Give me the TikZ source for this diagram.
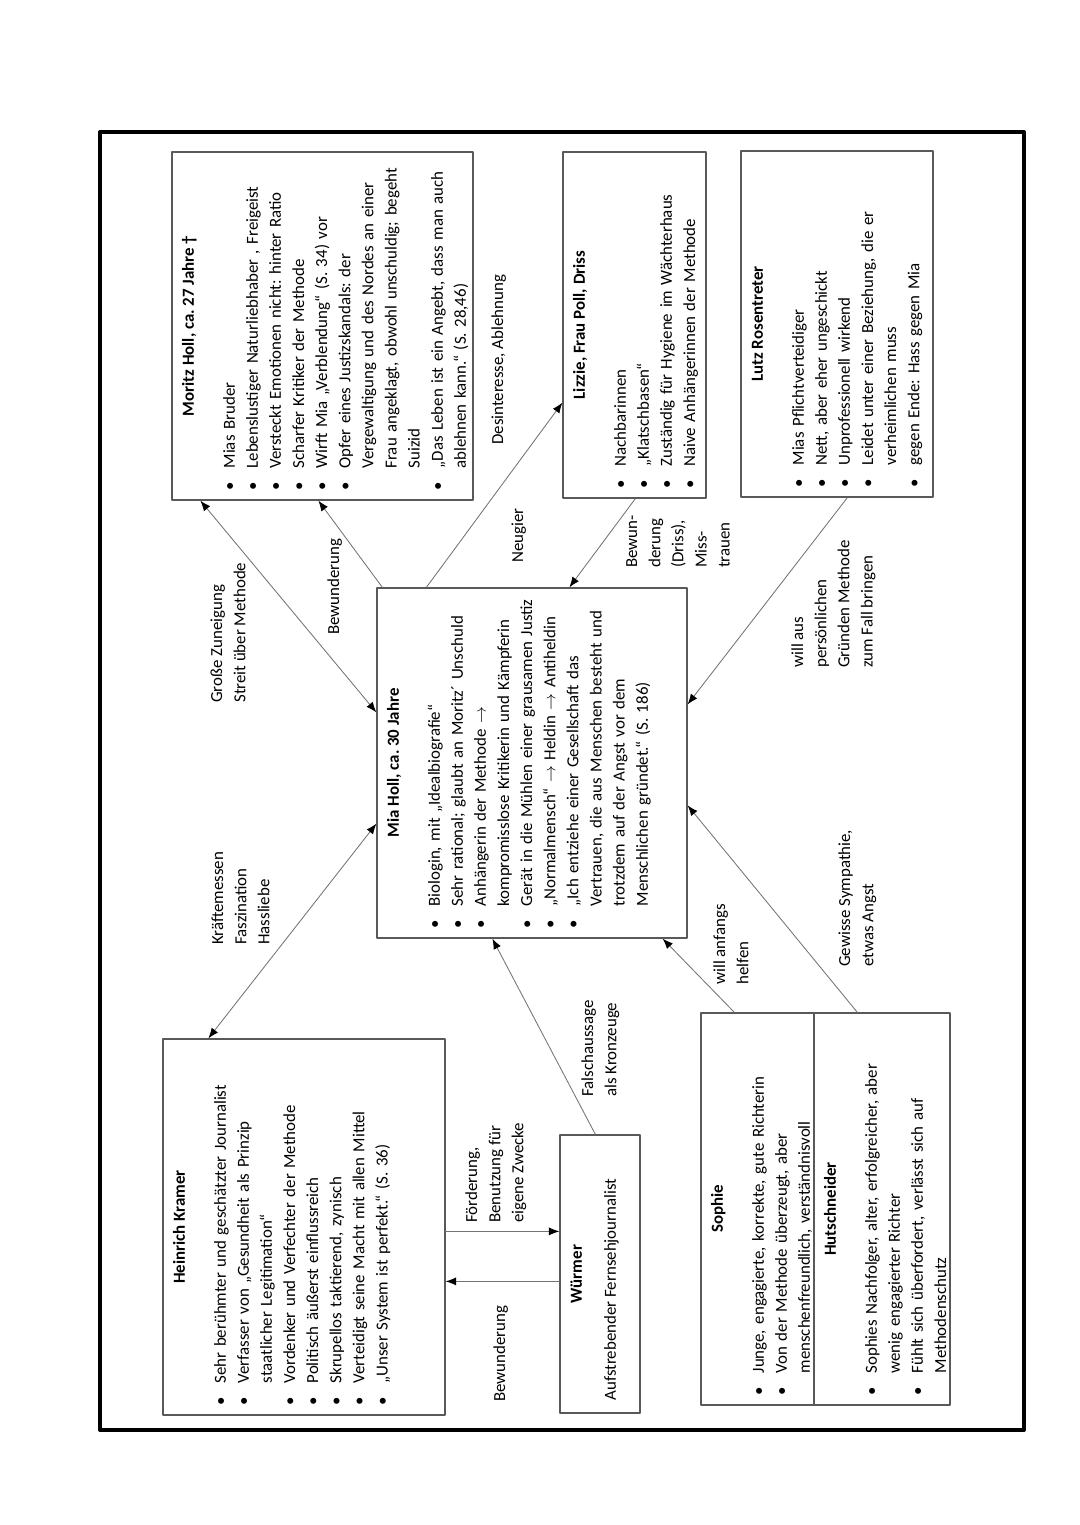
\documentclass[tikz,border=0pt]{standalone}
\usepackage{fontspec}
\setmainfont{Carlito}
\usepackage{enumitem}
\setlist[itemize]{leftmargin=5.5mm, labelsep=3.4mm, itemsep=0pt, topsep=0pt, parsep=0pt, partopsep=0pt, label=\strut\textbullet}
\usetikzlibrary{arrows.meta,calc,fit}
\frenchspacing

\begin{document}
\begin{tikzpicture}[x=0.25mm, y=-0.25mm, line join=round, line cap=round,
	font=\fontsize{12}{16.44}\selectfont,
	>={Latex[length=2.6mm,width=2mm,color=black]},
	box/.style={draw=black!65, line width=0.9pt, inner sep=0pt},
	pfeil/.style={draw=black!55, line width=0.6pt},
	titel/.style={rotate=90, anchor=base, inner sep=0pt, font=\fontsize{12}{16.44}\selectfont\bfseries},
	liste/.style={rotate=90, anchor=north west, inner sep=0pt, text width=95mm, align=left},
	notiz/.style={rotate=90, anchor=north west, inner sep=0pt, align=left}]
	\path[fill=white] (0,0) rectangle (1080,1525);
	\draw[line width=1mm] (100,132) rectangle (1024,1430);
	% Kästen (Pixelkoordinaten)
	\node[box, fit={(172,152) (473,500)}] (moritz) {};
	\node[box, fit={(563,152) (706,498)}] (lizzie) {};
	\node[box, fit={(741,151) (933,497)}] (lutz) {};
	\node[box, fit={(377,588) (687,938)}] (mia) {};
	\node[box, fit={(163,1039) (445,1415)}] (heinrich) {};
	\node[box, fit={(560,1135) (640,1413)}] (wuermer) {};
	\node[box, fit={(701,1013) (814,1405)}] (sophie) {};
	\node[box, fit={(814,1013) (950,1405)}] (hutschneider) {};
	% Titel
	\node[titel] (moritz-t) at ($(moritz.west)+(22.5,0)$) {Moritz Holl, ca. 27 Jahre †};
	\node[titel] (lizzie-t) at ($(lizzie.west)+(22.5,0)$) {Lizzie, Frau Poll, Driss};
	\node[titel] (lutz-t) at ($(lutz.west)+(22.5,0)$) {Lutz Rosentreter};
	\node[titel] (mia-t) at ($(mia.west)+(22.5,0)$) {Mia Holl, ca. 30 Jahre};
	\node[titel] (heinrich-t) at ($(heinrich.west)+(22.5,0)$) {Heinrich Kramer};
	\node[titel] (wuermer-t) at ($(wuermer.west)+(22.5,0)$) {Würmer};
	\node[titel] (sophie-t) at ($(sophie.west)+(22.5,0)$) {Sophie};
	\node[titel] (hutschneider-t) at ($(hutschneider.west)+(22.5,0)$) {Hutschneider};
	% Listen
	\node[liste] (moritz-l) at ($(moritz.south west)+(40,-10)$) {\begin{itemize}
		\item Mias Bruder
		\item Lebenslustiger Naturliebhaber , Freigeist
		\item Versteckt Emotionen nicht: hinter Ratio
		\item Scharfer Kritiker der Methode
		\item Wirft Mia „Verblendung“ (S. 34) vor
		\item Opfer eines Justizskandals: der\newline Vergewaltigung und des Nordes an einer\newline Frau angeklagt, obwohl unschuldig; begeht\newline Suizid
		\item „Das Leben ist ein Angebt, dass man auch\newline ablehnen kann.“ (S. 28,46)
	\end{itemize}};
	\node[liste] (lizzie-l) at ($(lizzie.south west)+(40,-10)$) {\begin{itemize}
		\item Nachbarinnen
		\item „Klatschbasen“
		\item Zuständig für Hygiene im Wächterhaus
		\item Naive Anhängerinnen der Methode
	\end{itemize}};
	\node[liste] (lutz-l) at ($(lutz.south west)+(40,-10)$) {\begin{itemize}
		\item Mias Pflichtverteidiger
		\item Nett, aber eher ungeschickt
		\item Unprofessionell wirkend
		\item Leidet unter einer Beziehung, die er\newline verheimlichen muss
		\item gegen Ende: Hass gegen Mia
	\end{itemize}};
	\node[liste] (mia-l) at ($(mia.south west)+(40,-10)$) {\begin{itemize}
		\item Biologin, mit „Idealbiografie“
		\item Sehr rational; glaubt an Moritz´ Unschuld
		\item Anhängerin der Methode $\rightarrow$\newline kompromisslose Kritikerin und Kämpferin
		\item Gerät in die Mühlen einer grausamen Justiz
		\item „Normalmensch“ $\rightarrow$ Heldin $\rightarrow$ Antiheldin
		\item „Ich entziehe einer Gesellschaft das\newline Vertrauen, die aus Menschen besteht und\newline trotzdem auf der Angst vor dem\newline Menschlichen gründet.“ (S. 186)
	\end{itemize}};
	\node[liste] (heinrich-l) at ($(heinrich.south west)+(40,-10)$) {\begin{itemize}
		\item Sehr berühmter und geschätzter Journalist
		\item Verfasser von „Gesundheit als Prinzip\newline staatlicher Legitimation“
		\item Vordenker und Verfechter der Methode
		\item Politisch äußerst einflussreich
		\item Skrupellos taktierend, zynisch
		\item Verteidigt seine Macht mit allen Mittel
		\item „Unser System ist perfekt.“ (S. 36)
	\end{itemize}};
	\node[notiz] (wuermer-l) at ($(wuermer.south west)+(40,-13)$) {\strut Aufstrebender Fernsehjournalist};
	\node[liste] (sophie-l) at ($(sophie.south west)+(40,-10)$) {\begin{itemize}
		\item Junge, engagierte, korrekte, gute Richterin
		\item Von der Methode überzeugt, aber\newline menschenfreundlich, verständnisvoll
	\end{itemize}};
	\node[liste] (hutschneider-l) at ($(hutschneider.south west)+(40,-10)$) {\begin{itemize}
		\item Sophies Nachfolger, alter, erfolgreicher, aber\newline wenig engagierter Richter
		\item Fühlt sich überfordert, verlässt sich auf\newline Methodenschutz
	\end{itemize}};
	% Beziehungen
	\draw[pfeil,<->] ($(heinrich.north west)+(46,0)$) -- ($(mia.south west)+(0,-115)$);
	\draw[pfeil,<->] ($(mia.north west)+(0,125)$) -- ($(moritz.south west)+(29,0)$);
	\draw[pfeil,->] ($(mia.north west)+(6,0)$) -- ($(moritz.south west)+(147,0)$);
	\draw[pfeil,->] ($(mia.north west)+(50,0)$) -- ($(lizzie.south west)+(0,-96)$);
	\draw[pfeil,->] ($(lizzie.south west)+(73,0)$) -- ($(mia.north west)+(193,0)$);
	\draw[pfeil,->] ($(lutz.south west)+(107,0)$) -- ($(mia.north east)+(0,117)$);
	\draw[pfeil,->] ($(hutschneider.north west)+(44,0)$) -- ($(mia.north east)+(0,218)$);
	\draw[pfeil,->] ($(sophie.north west)+(34,0)$) -- ($(mia.south east)+(-25,0)$);
	\draw[pfeil,->] ($(wuermer.north west)+(36,0)$) -- ($(mia.south west)+(116,0)$);
	\draw[pfeil,->] ($(heinrich.north east)+(0,193)$) -- ($(wuermer.north west)+(0,97)$);
	\draw[pfeil,->] ($(wuermer.north west)+(0,147)$) -- ($(heinrich.north east)+(0,243)$);
	% Beschriftungen
	\node[notiz] (l-kraefte) at (206.7,945) {\strut Kräftemessen\\Faszination\\Hassliebe};
	\node[notiz] (l-zuneigung) at (205.7,703) {\strut Große Zuneigung\\Streit über Methode};
	\node[notiz] (l-bewmoritz) at (322.7,635) {\strut Bewunderung};
	\node[notiz] (l-desinteresse) at (486.7,445) {\strut Desinteresse, Ablehnung};
	\node[notiz] (l-neugier) at (506.7,563) {\strut Neugier};
	\node[notiz] (l-misstrauen) at (620.7,568) {\strut Bewun-\\derung\\(Driss),\\Miss-\\trauen};
	\node[notiz] (l-willaus) at (786.7,668) {\strut will aus\\persönlichen\\Gründen Methode\\zum Fall bringen};
	\node[notiz] (l-sympathie) at (833.7,967) {\strut Gewisse Sympathie,\\etwas Angst};
	\node[notiz] (l-helfen) at (708.7,985) {\strut will anfangs\\helfen};
	\node[notiz] (l-falsch) at (576.7,1097) {\strut Falschaussage\\als Kronzeuge};
	\node[notiz] (l-foerderung) at (460.7,1223) {\strut Förderung,\\Benutzung für\\eigene Zwecke};
	\node[notiz] (l-bewheinrich) at (488.7,1402) {\strut Bewunderung};
\end{tikzpicture}
\end{document}
